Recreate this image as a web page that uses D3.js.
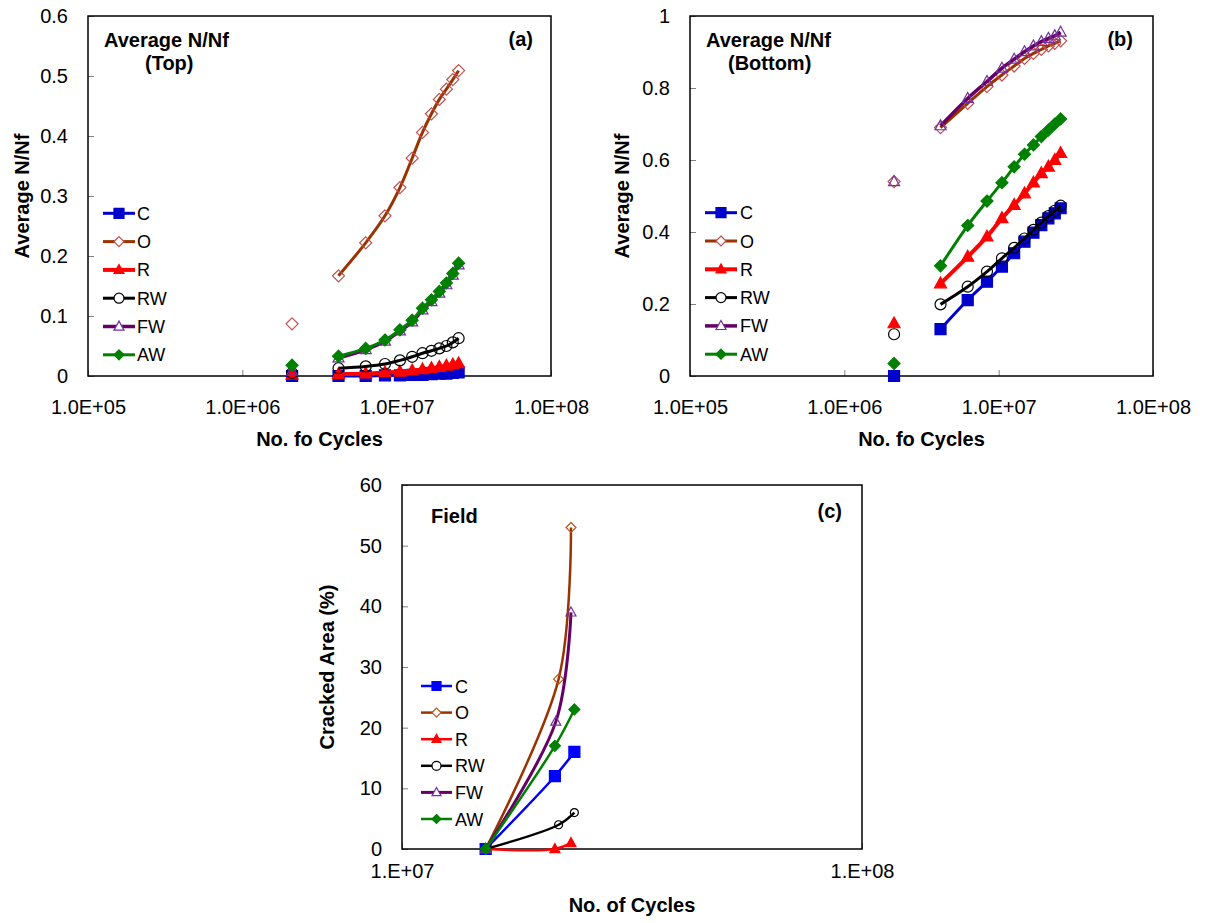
<!DOCTYPE html>
<html><head><meta charset="utf-8">
<script src="https://cdn.jsdelivr.net/npm/d3@7"></script>
<style>
body{margin:0;background:#fff}
svg{display:block}
text{font-family:"Liberation Sans",Arial,Helvetica,sans-serif;fill:#000}
</style>
</head><body>
<svg id="chart" width="1207" height="923"></svg>
<script>
// ---------------- DATA ----------------
const seriesNames = ["C", "O", "R", "RW", "FW", "AW"];

// panels (a) and (b): number of cycles
const cyclesAB = [2.1e6, 4.2e6, 6.3e6, 8.4e6, 1.05e7, 1.26e7, 1.47e7, 1.68e7, 1.89e7, 2.1e7, 2.31e7, 2.52e7];

// (a) Average N/Nf (Top)
const topC  = [0, 0, 0, 0.001, 0.001, 0.002, 0.002, 0.003, 0.004, 0.004, 0.005, 0.006];
const topO  = [0.087, 0.167, 0.222, 0.267, 0.314, 0.363, 0.406, 0.437, 0.461, 0.478, 0.494, 0.509];
const topR  = [0.002, 0.003, 0.004, 0.006, 0.007, 0.009, 0.011, 0.013, 0.015, 0.017, 0.019, 0.021];
const topRW = [0.005, 0.013, 0.016, 0.020, 0.026, 0.032, 0.038, 0.042, 0.046, 0.050, 0.056, 0.063];
const topFW = [0.008, 0.030, 0.044, 0.058, 0.075, 0.090, 0.110, 0.124, 0.138, 0.152, 0.168, 0.185];
const topAW = [0.018, 0.033, 0.046, 0.060, 0.077, 0.093, 0.113, 0.127, 0.141, 0.155, 0.171, 0.188];

// (b) Average N/Nf (Bottom)
const botC  = [0, 0.130, 0.211, 0.262, 0.304, 0.341, 0.373, 0.398, 0.419, 0.438, 0.452, 0.466];
const botO  = [0.540, 0.690, 0.757, 0.804, 0.836, 0.861, 0.882, 0.896, 0.907, 0.917, 0.924, 0.931];
const botR  = [0.146, 0.257, 0.331, 0.387, 0.438, 0.475, 0.507, 0.537, 0.563, 0.581, 0.600, 0.619];
const botRW = [0.116, 0.199, 0.248, 0.290, 0.327, 0.356, 0.382, 0.406, 0.426, 0.444, 0.459, 0.473];
const botFW = [0.540, 0.695, 0.771, 0.818, 0.855, 0.880, 0.901, 0.917, 0.929, 0.938, 0.945, 0.955];
const botAW = [0.035, 0.306, 0.418, 0.486, 0.537, 0.581, 0.616, 0.642, 0.665, 0.683, 0.700, 0.714];

// (c) Field: cracked area (%)
const fieldCyclesC  = [1.52e7, 2.15e7, 2.37e7];  const fieldC  = [0, 12, 16];
const fieldCyclesO  = [1.52e7, 2.19e7, 2.33e7];  const fieldO  = [0, 28, 53];
const fieldCyclesR  = [1.52e7, 2.15e7, 2.33e7];  const fieldR  = [0, 0, 1];
const fieldCyclesRW = [1.52e7, 2.19e7, 2.37e7];  const fieldRW = [0, 4, 6];
const fieldCyclesFW = [1.52e7, 2.16e7, 2.33e7];  const fieldFW = [0, 21, 39];
const fieldCyclesAW = [1.52e7, 2.15e7, 2.37e7];  const fieldAW = [0, 17, 23];

// ticks
const xTicksAB = [1e5, 1e6, 1e7, 1e8];
const xTickLabelsAB = ["1.0E+05", "1.0E+06", "1.0E+07", "1.0E+08"];
const xTicksC = [1e7, 1e8];
const xTickLabelsC = ["1.E+07", "1.E+08"];
const yTicksA = [0, 0.1, 0.2, 0.3, 0.4, 0.5, 0.6];
const yTickLabelsA = ["0", "0.1", "0.2", "0.3", "0.4", "0.5", "0.6"];
const yTicksB = [0, 0.2, 0.4, 0.6, 0.8, 1];
const yTickLabelsB = ["0", "0.2", "0.4", "0.6", "0.8", "1"];
const yTicksC = [0, 10, 20, 30, 40, 50, 60];
const yTickLabelsC = ["0", "10", "20", "30", "40", "50", "60"];

// ---------------- STYLES ----------------
const styleAB = {
  C:  {line: "#0000CC", lw: 3,   m: "square",   ms: 11, fill: "#0000CC", stroke: "#0000CC"},
  O:  {line: "#993300", lw: 3,   m: "diamond",  ms: 12, fill: "none",    stroke: "#C0504D"},
  R:  {line: "#FF0000", lw: 4,   m: "triangle", ms: 12, fill: "#FF0000", stroke: "#FF0000"},
  RW: {line: "#000000", lw: 3,   m: "circle",   ms: 11, fill: "none",    stroke: "#000000"},
  FW: {line: "#660066", lw: 3.5, m: "triangle", ms: 11, fill: "none",    stroke: "#7030A0"},
  AW: {line: "#008000", lw: 3,   m: "diamond",  ms: 12, fill: "#008000", stroke: "#008000"}
};
const styleC = {
  C:  {line: "#0000FF", lw: 2.5, m: "square",   ms: 11, fill: "#0000FF", stroke: "#0000FF"},
  O:  {line: "#993300", lw: 2.5, m: "diamond",  ms: 10, fill: "none",    stroke: "#B8561E"},
  R:  {line: "#FF0000", lw: 2.5, m: "triangle", ms: 10, fill: "#FF0000", stroke: "#FF0000"},
  RW: {line: "#000000", lw: 2.5, m: "circle",   ms: 8,  fill: "none",    stroke: "#000000"},
  FW: {line: "#660066", lw: 3,   m: "triangle", ms: 10, fill: "none",    stroke: "#7030A0"},
  AW: {line: "#008000", lw: 2.5, m: "diamond",  ms: 11, fill: "#008000", stroke: "#008000"}
};

function markerPath(type, s) {
  const h = s / 2;
  if (type === "square") return `M${-h},${-h}h${s}v${s}h${-s}Z`;
  if (type === "diamond") return `M0,${-h}L${h},0L0,${h}L${-h},0Z`;
  if (type === "triangle") { const H = s * 0.9; return `M0,${-H * 0.6}L${h},${H * 0.4}L${-h},${H * 0.4}Z`; }
  const r = h; return `M${r},0A${r},${r} 0 1 1 ${-r},0A${r},${r} 0 1 1 ${r},0Z`;
}

const svg = d3.select("#chart");
const FONT_TICK = 20, FONT_BOLD = 20, FONT_LEG = 18;

function drawPanel(cfg) {
  const g = svg.append("g");
  const x = d3.scaleLog().domain(cfg.xDomain).range([cfg.left, cfg.right]);
  const y = d3.scaleLinear().domain(cfg.yDomain).range([cfg.bottom, cfg.top]);

  // axes (inward ticks)
  const xa = g.append("g").attr("transform", `translate(0,${cfg.bottom})`)
    .call(d3.axisBottom(x).tickValues(cfg.xTicks).tickFormat((d, i) => cfg.xLabels[i])
      .tickSize(-6).tickPadding(cfg.xPad));
  const ya = g.append("g").attr("transform", `translate(${cfg.left},0)`)
    .call(d3.axisLeft(y).tickValues(cfg.yTicks).tickFormat((d, i) => cfg.yLabels[i])
      .tickSize(-6).tickPadding(20));
  [xa, ya].forEach(a => {
    a.select(".domain").remove();
    a.selectAll(".tick line").attr("stroke", "#808080").attr("stroke-width", 1);
    a.selectAll(".tick text").style("font-size", FONT_TICK + "px")
      .style("font-family", '"Liberation Sans",Arial,sans-serif').attr("fill", "#000");
  });

  // frame
  g.append("rect").attr("x", cfg.left).attr("y", cfg.top)
    .attr("width", cfg.right - cfg.left).attr("height", cfg.bottom - cfg.top)
    .attr("fill", "none").attr("stroke", "#000").attr("stroke-width", 1.5);

  // series
  cfg.series.forEach((s, si) => {
    const st = cfg.style[seriesNames[si]];
    const pts = s.xs.map((xv, i) => [x(xv), y(s.ys[i])]);
    const linePts = pts.slice(cfg.lineFrom);
    g.append("path").attr("d", d3.line().curve(d3.curveCatmullRom.alpha(0.5))(linePts))
      .attr("fill", "none").attr("stroke", st.line).attr("stroke-width", st.lw)
      .attr("stroke-linejoin", "round");
    g.selectAll(null).data(pts).enter().append("path")
      .attr("transform", d => `translate(${d[0]},${d[1]})`)
      .attr("d", markerPath(st.m, st.ms))
      .attr("fill", st.fill).attr("stroke", st.stroke).attr("stroke-width", 1.2);
  });

  // legend
  const L = cfg.legend;
  seriesNames.forEach((name, i) => {
    const st = cfg.style[name];
    const ry = L.y0 + i * L.dy;
    g.append("line").attr("x1", L.x0).attr("x2", L.x1).attr("y1", ry).attr("y2", ry)
      .attr("stroke", st.line).attr("stroke-width", st.lw);
    g.append("path").attr("transform", `translate(${(L.x0 + L.x1) / 2},${ry})`)
      .attr("d", markerPath(st.m, L.ms)).attr("fill", st.fill === "none" ? "#fff" : st.fill)
      .attr("stroke", st.stroke).attr("stroke-width", 1.2);
    g.append("text").attr("x", L.tx).attr("y", ry + 6.5).style("font-size", FONT_LEG + "px").text(name);
  });

  // titles
  g.append("text").attr("x", (cfg.left + cfg.right) / 2).attr("y", cfg.xTitleY)
    .attr("text-anchor", "middle").style("font-size", FONT_BOLD + "px").style("font-weight", "bold")
    .text(cfg.xTitle);
  g.append("text").attr("transform", `translate(${cfg.yTitleX},${(cfg.top + cfg.bottom) / 2}) rotate(-90)`)
    .attr("text-anchor", "middle").attr("dy", "0.35em")
    .style("font-size", FONT_BOLD + "px").style("font-weight", "bold").text(cfg.yTitle);
  cfg.notes.forEach(n => {
    g.append("text").attr("x", n.x).attr("y", n.y).attr("text-anchor", n.anchor || "start")
      .style("font-size", FONT_BOLD + "px").style("font-weight", "bold").text(n.t);
  });
}

drawPanel({
  left: 88, right: 551, top: 16, bottom: 376,
  xDomain: [1e5, 1e8], yDomain: [0, 0.6],
  xTicks: xTicksAB, xLabels: xTickLabelsAB, yTicks: yTicksA, yLabels: yTickLabelsA, xPad: 24,
  style: styleAB, lineFrom: 1,
  series: [topC, topO, topR, topRW, topFW, topAW].map(ys => ({xs: cyclesAB, ys})),
  legend: {x0: 103, x1: 135, tx: 137, y0: 213.3, dy: 28.3, ms: 10},
  xTitle: "No. fo Cycles", xTitleY: 446, yTitle: "Average N/Nf", yTitleX: 22,
  notes: [{t: "Average N/Nf", x: 104, y: 47}, {t: "(Top)", x: 145, y: 70}, {t: "(a)", x: 533, y: 46, anchor: "end"}]
});

drawPanel({
  left: 690, right: 1153, top: 16, bottom: 376,
  xDomain: [1e5, 1e8], yDomain: [0, 1],
  xTicks: xTicksAB, xLabels: xTickLabelsAB, yTicks: yTicksB, yLabels: yTickLabelsB, xPad: 24,
  style: styleAB, lineFrom: 1,
  series: [botC, botO, botR, botRW, botFW, botAW].map(ys => ({xs: cyclesAB, ys})),
  legend: {x0: 705, x1: 737, tx: 740, y0: 212.7, dy: 28.3, ms: 10},
  xTitle: "No. fo Cycles", xTitleY: 446, yTitle: "Average N/Nf", yTitleX: 622,
  notes: [{t: "Average N/Nf", x: 706, y: 47}, {t: "(Bottom)", x: 728, y: 70}, {t: "(b)", x: 1133, y: 46, anchor: "end"}]
});

drawPanel({
  left: 402, right: 862, top: 485, bottom: 849,
  xDomain: [1e7, 1e8], yDomain: [0, 60],
  xTicks: xTicksC, xLabels: xTickLabelsC, yTicks: yTicksC, yLabels: yTickLabelsC, xPad: 15,
  style: styleC, lineFrom: 0,
  series: [
    {xs: fieldCyclesC, ys: fieldC}, {xs: fieldCyclesO, ys: fieldO}, {xs: fieldCyclesR, ys: fieldR},
    {xs: fieldCyclesRW, ys: fieldRW}, {xs: fieldCyclesFW, ys: fieldFW}, {xs: fieldCyclesAW, ys: fieldAW}
  ],
  legend: {x0: 421, x1: 452, tx: 455, y0: 686, dy: 26.6, ms: 9},
  xTitle: "No. of Cycles", xTitleY: 912, yTitle: "Cracked Area (%)", yTitleX: 327,
  notes: [{t: "Field", x: 431, y: 523}, {t: "(c)", x: 842, y: 518, anchor: "end"}]
});
</script>
</body></html>
